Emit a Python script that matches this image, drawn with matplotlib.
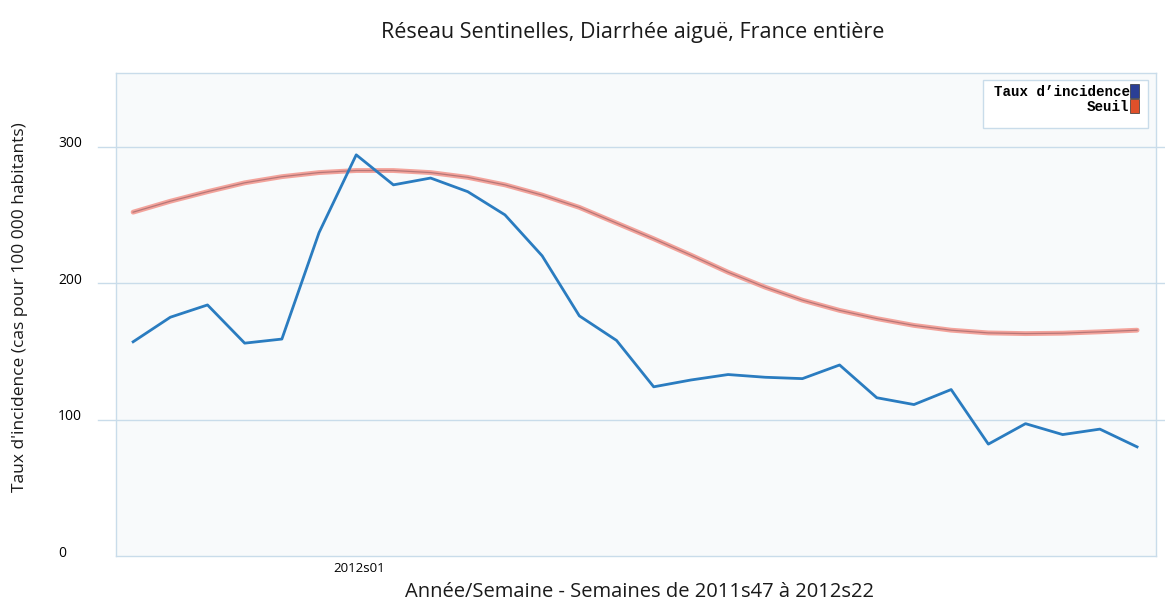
import matplotlib
matplotlib.use("Agg")
import matplotlib.pyplot as plt
import matplotlib.transforms as mtransforms
from matplotlib.patches import Patch, Rectangle

weeks = ["2011s47", "2011s48", "2011s49", "2011s50", "2011s51", "2011s52",
         "2012s01", "2012s02", "2012s03", "2012s04", "2012s05", "2012s06",
         "2012s07", "2012s08", "2012s09", "2012s10", "2012s11", "2012s12",
         "2012s13", "2012s14", "2012s15", "2012s16", "2012s17", "2012s18",
         "2012s19", "2012s20", "2012s21", "2012s22"]
incidence = [157, 175, 184, 156, 159, 237, 294, 272, 277, 267, 250, 220,
             176, 158, 124, 129, 133, 131, 130, 140, 116, 111, 122, 82,
             97, 89, 93, 80]
seuil = [252, 260, 267, 273.5, 278, 281, 282.5, 282.5, 281, 277.5, 272, 264.5,
         255.5, 244, 232.5, 220.5, 208, 197, 187.5, 180, 174, 169, 165.5, 163.5,
         163, 163.3, 164.3, 165.5]
yticks = [0, 100, 200, 300]
xtick_labels = ["2012s01"]

fig = plt.figure(figsize=(11.65, 6.03), dpi=100)
ax = fig.add_axes([0.0996, 0.0779, 0.8927, 0.8011])
ax.set_facecolor("#f8fafb")

x = list(range(len(weeks)))
grid_c = "#c9dcea"
for yv in yticks[1:]:
    ax.axhline(yv, xmin=-0.017, xmax=1.01, color=grid_c, lw=1.0, clip_on=False, zorder=1)

ax.plot(x, seuil, color="#f3a39b", lw=3.5, solid_capstyle="round", zorder=2)
ax.plot(x, seuil, color="#7a4a55", lw=0.9, alpha=0.5, zorder=3)
ax.plot(x, incidence, color="#2a7cc0", lw=2, zorder=4)

ax.set_xlim(-0.46, 27.51)
ax.set_ylim(0, 354)

ax.set_yticks(yticks)
ax.set_yticklabels([str(v) for v in yticks], fontsize=10, family="Open Sans")
ax.tick_params(axis="y", length=0, pad=41.8)
for lab in ax.get_yticklabels():
    lab.set_horizontalalignment("left")
    lab.set_transform(lab.get_transform() + mtransforms.ScaledTranslation(0, 5 / 100, fig.dpi_scale_trans))

idx = weeks.index(xtick_labels[0])
ax.set_xticks([idx])
ax.set_xticklabels(xtick_labels, fontsize=9.5, family="Open Sans")
ax.tick_params(axis="x", length=0, pad=4)
for lab in ax.get_xticklabels():
    lab.set_transform(lab.get_transform() + mtransforms.ScaledTranslation(3 / 100, 0, fig.dpi_scale_trans))

for sp in ax.spines.values():
    sp.set_color(grid_c)
    sp.set_linewidth(1.0)

fig.text(0.543, 0.946, "Réseau Sentinelles, Diarrhée aiguë, France entière",
         ha="center", va="center", fontsize=15.5, family="Open Sans", color="#1a1a1a")
fig.text(0.549, 0.018, "Année/Semaine - Semaines de 2011s47 à 2012s22",
         ha="center", va="center", fontsize=14.5, family="Open Sans", color="#1a1a1a")
fig.text(0.017, 0.49, "Taux d'incidence (cas pour 100 000 habitants)",
         ha="center", va="center", rotation=90, fontsize=12.5, family="Open Sans", color="#1a1a1a")

# legend box
ax.add_patch(Rectangle((0.8337, 0.886), 0.1586, 0.0995, transform=ax.transAxes,
                       facecolor="white", edgecolor=grid_c, lw=1.0, zorder=5))
handles = [Patch(facecolor="#2b3f95", edgecolor="#333333", lw=0.5, label="Taux d\u2019incidence"),
           Patch(facecolor="#e0502a", edgecolor="#333333", lw=0.5, label="Seuil")]
leg = ax.legend(handles=handles, loc="upper right", bbox_to_anchor=(0.9835, 0.978),
                markerfirst=False, handlelength=0.6, handleheight=1.2, handletextpad=0.05,
                labelspacing=0.0, borderpad=0.0, borderaxespad=0,
                prop={"family": "Liberation Mono", "weight": "bold", "size": 10.2},
                frameon=False)
leg.set_zorder(6)

fig.savefig("out.png", dpi=100, facecolor="white")
